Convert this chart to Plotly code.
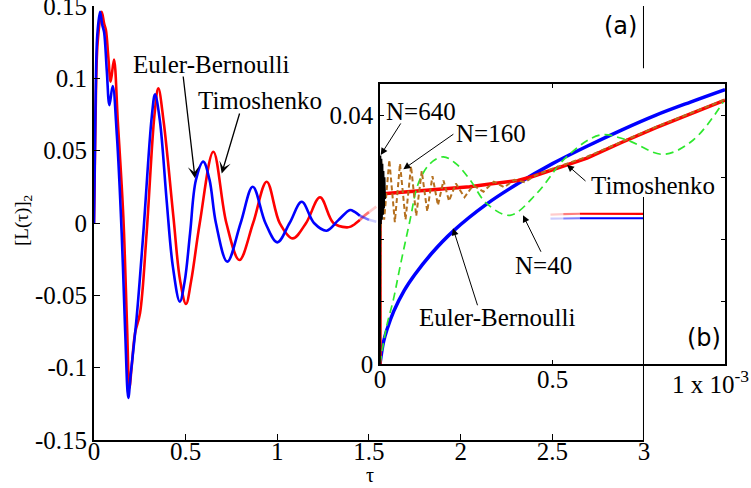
import plotly.graph_objects as go

# ---------------- main panel (a) data ----------------
tau_eb = [0, 0.008, 0.018, 0.033, 0.045, 0.055, 0.07, 0.084, 0.102, 0.125, 0.151, 0.17, 0.187, 0.2,
          0.233, 0.269, 0.315, 0.333, 0.36, 0.396, 0.43, 0.468, 0.495, 0.524, 0.556, 0.596, 0.63,
          0.665, 0.727, 0.80, 0.866, 0.935, 1.0, 1.067, 1.133, 1.2, 1.269, 1.333, 1.397, 1.42,
          1.45, 1.47, 1.50, 1.54]
L_eb = [0, 0.08, 0.13, 0.146, 0.137, 0.132, 0.105, 0.0815, 0.0947, 0.06, -0.007, -0.075, -0.121, -0.105,
        -0.0647, -0.0071, 0.0734, 0.0889, 0.07, 0.0159, -0.03, -0.0544, -0.04, -0.0071, 0.0297, 0.0424, 0.03,
        0.0, -0.0267, 0.0, 0.0251, 0.0, -0.0134, 0.0, 0.0147, 0.0, -0.0053, 0.002, 0.009, 0.0078,
        0.005, 0.0039, 0.0022, 0.0009]

tau_ti = [0, 0.008, 0.02, 0.042, 0.055, 0.065, 0.078, 0.091, 0.109, 0.13, 0.16, 0.18, 0.193, 0.205,
          0.224, 0.251, 0.287, 0.33, 0.351, 0.38, 0.433, 0.47, 0.502, 0.53, 0.577, 0.651, 0.722,
          0.793, 0.868, 0.942, 1.013, 1.084, 1.157, 1.233, 1.306, 1.379, 1.40, 1.42, 1.45, 1.47,
          1.50, 1.54]
L_ti = [0, 0.07, 0.125, 0.146, 0.138, 0.1334, 0.115, 0.0977, 0.113, 0.07, 0.0044, -0.07, -0.114, -0.1,
        -0.076, -0.0624, -0.0071, 0.075, 0.0931, 0.07, 0.0044, -0.04, -0.056, -0.04, 0.0, 0.0493, 0.0,
        -0.0256, 0.0, 0.0285, 0.0, -0.0106, 0.0, 0.0178, 0.0, -0.003, -0.0025, -0.001, 0.002, 0.0045,
        0.0075, 0.0113]

# remnants of the main curves visible through the inset
tail_tau = [2.49, 2.56, 2.65, 2.75, 2.85, 2.95, 3.0]
tail_ti = [0.0058, 0.0061, 0.0064, 0.0063, 0.0060, 0.0062, 0.0063]
tail_eb = [0.0030, 0.0031, 0.0033, 0.0033, 0.0032, 0.0033, 0.0033]

x_ticks = [0, 0.5, 1, 1.5, 2, 2.5, 3]
x_labels = ["0", "0.5", "1", "1.5", "2", "2.5", "3"]
y_ticks = [-0.15, -0.1, -0.05, 0, 0.05, 0.1, 0.15]
y_labels = ["-0.15", "-0.1", "-0.05", "0", "0.05", "0.1", "0.15"]

# ---------------- inset panel (b) data (tau in units of 1e-3) ----------------
ins_eb_t = [0, 0.01, 0.02, 0.04, 0.07, 0.1, 0.15, 0.213, 0.309, 0.4, 0.5,
            0.6, 0.7, 0.8, 0.9, 1.0]
ins_eb_L = [0, 0.0035, 0.0055, 0.0085, 0.0118, 0.0143, 0.0178, 0.0214, 0.0257, 0.0290, 0.0322,
            0.0350, 0.0376, 0.0400, 0.0421, 0.0441]

ins_ti_t = [0, 0, 0.08, 0.18, 0.26, 0.33, 0.4, 0.44, 0.5, 0.55, 0.6, 0.7, 0.8, 0.9, 1.0]
ins_ti_L = [0, 0.0273, 0.0277, 0.0281, 0.0285, 0.029, 0.0295, 0.0301, 0.0312, 0.0321, 0.0331, 0.0356,
            0.0380, 0.0402, 0.0424]

n40_t = [0, 0.019, 0.0386, 0.058, 0.087, 0.111, 0.145, 0.1836, 0.22, 0.261, 0.309, 0.377, 0.454,
         0.541, 0.638, 0.715, 0.821, 0.908, 0.995]
n40_L = [0, 0.006, 0.0103, 0.0156, 0.0231, 0.029, 0.0322, 0.0333, 0.0322, 0.0296, 0.0258, 0.0239,
         0.0274, 0.0333, 0.0368, 0.036, 0.0337, 0.036, 0.0421]

n160_t = [0.0, 0.003, 0.012, 0.027, 0.043, 0.058, 0.074, 0.090, 0.105, 0.121, 0.137, 0.152, 0.168,
          0.184, 0.2, 0.22, 0.245, 0.27, 0.3, 0.33, 0.36, 0.39, 0.42, 0.45, 0.5, 0.6, 0.7, 0.8, 0.9, 1.0]
n160_L = [0.0, 0.033, 0.0232, 0.0328, 0.0228, 0.0322, 0.0232, 0.0318, 0.0238, 0.031, 0.0245, 0.0302,
          0.0255, 0.0295, 0.0262, 0.029, 0.0268, 0.0287, 0.0277, 0.0293, 0.0284, 0.0296, 0.0292, 0.0303,
          0.0314, 0.0333, 0.0357, 0.0381, 0.0403, 0.0425]

n640_t = [0, 0.0015, 0.003, 0.0045, 0.006, 0.0075, 0.009, 0.0105, 0.012, 0.0135, 0.015]
n640_L = [0.0, 0.0335, 0.0225, 0.0330, 0.0232, 0.0322, 0.0240, 0.0310, 0.0250, 0.0300, 0.0265]

ins_y_ticks = [0, 0.01, 0.02, 0.03, 0.04]
ins_y_labels = ["0", "", "", "", "0.04"]
ins_x_ticks = [0, 0.5, 1]
ins_x_labels = ["0", "0.5", ""]

SERIF = "Liberation Serif, DejaVu Serif, serif"
SANS = "DejaVu Sans, sans-serif"


def seg(xs, ys, a, b):
    px = [x for x, y in zip(xs, ys) if a <= x <= b]
    py = [y for x, y in zip(xs, ys) if a <= x <= b]
    return px, py


fig = go.Figure()

# main curves with fading end
for xs, ys, rgb in [(tau_ti, L_ti, "255,0,0"), (tau_eb, L_eb, "0,0,255")]:
    for a, b, alpha in [(0, 1.45, 1.0), (1.45, 1.50, 0.55), (1.50, 1.6, 0.2)]:
        px, py = seg(xs, ys, a, b)
        fig.add_trace(go.Scatter(x=px, y=py, mode="lines", xaxis="x", yaxis="y",
                                 line=dict(color=f"rgba({rgb},{alpha})", width=2.6, shape="spline"),
                                 hoverinfo="skip"))
for ys, rgb in [(tail_ti, "255,0,0"), (tail_eb, "0,0,255")]:
    for a, b, alpha in [(2.4, 2.56, 0.2), (2.56, 2.65, 0.5), (2.65, 3.0, 1.0)]:
        px, py = seg(tail_tau, ys, a, b)
        fig.add_trace(go.Scatter(x=px, y=py, mode="lines", xaxis="x", yaxis="y",
                                 line=dict(color=f"rgba({rgb},{alpha})", width=2.2),
                                 hoverinfo="skip"))

# inset curves
fig.add_trace(go.Scatter(x=ins_eb_t, y=ins_eb_L, mode="lines", xaxis="x2", yaxis="y2",
                         line=dict(color="#0000ff", width=3.5, shape="spline")))
fig.add_trace(go.Scatter(x=ins_ti_t, y=ins_ti_L, mode="lines", xaxis="x2", yaxis="y2",
                         line=dict(color="#ff0000", width=3.5)))
fig.add_trace(go.Scatter(x=n40_t, y=n40_L, mode="lines", xaxis="x2", yaxis="y2",
                         line=dict(color="#2ee82e", width=1.7, dash="8px,5px", shape="spline")))
fig.add_trace(go.Scatter(x=n160_t, y=n160_L, mode="lines", xaxis="x2", yaxis="y2",
                         line=dict(color="#b5701f", width=2, dash="5px,3px")))
fig.add_trace(go.Scatter(x=n640_t, y=n640_L, mode="lines", xaxis="x2", yaxis="y2",
                         line=dict(color="#000000", width=1.6)))

axis_common = dict(showgrid=False, zeroline=False, showline=True, linecolor="black", automargin=False,
                   ticks="inside", tickcolor="black", tickfont=dict(family=SERIF, size=25, color="black"))

fig.update_layout(
    width=751, height=488,
    margin=dict(l=94, r=26, t=6, b=48),
    paper_bgcolor="white", plot_bgcolor="rgba(0,0,0,0)",
    showlegend=False,
    xaxis=dict(domain=[0, 0.8716], range=[0, 3.0], tickvals=x_ticks, ticktext=x_labels,
               linewidth=2, ticklen=6, anchor="y", ticklabelstandoff=-12, **axis_common),
    yaxis=dict(domain=[0, 1], range=[-0.15, 0.15001], tickvals=y_ticks, ticktext=y_labels,
               linewidth=2, ticklen=6, anchor="x", ticklabeloverflow="allow", **axis_common),
    xaxis3=dict(overlaying="x", side="top", range=[0, 3.0], tickvals=x_ticks, showticklabels=False,
                linewidth=2, ticklen=6, anchor="y", **axis_common),
    xaxis2=dict(domain=[0.45325, 1.0], range=[0, 1], tickvals=ins_x_ticks, ticktext=ins_x_labels,
                linewidth=1.5, ticklen=4, anchor="y2", mirror="ticks", ticklabelstandoff=-8,
                **axis_common),
    yaxis2=dict(domain=[0.1751, 0.8203], range=[0, 0.045], tickvals=ins_y_ticks, ticktext=ins_y_labels,
                linewidth=1.5, ticklen=4, anchor="x2", mirror="ticks", **axis_common),
)

# right border of main frame (partly hidden by the inset)
for y0, y1 in [(0.15, 0.107), (0.018, -0.15)]:
    fig.add_shape(type="line", xref="x", yref="y", x0=3, x1=3, y0=y0, y1=y1,
                  line=dict(color="black", width=2))

ann_font = dict(family=SERIF, size=25, color="black")

# main text labels
fig.add_annotation(x=0.6356, y=0.1099, xref="x", yref="y", text="Euler-Bernoulli",
                   showarrow=False, font=ann_font)
fig.add_annotation(x=0.903, y=0.085, xref="x", yref="y", text="Timoshenko",
                   showarrow=False, font=ann_font)
fig.add_annotation(x=2.87, y=0.136, xref="x", yref="y", text="(a)", showarrow=False,
                   font=dict(family=SANS, size=24, color="black"))
# main arrows
for tip, tail in [((0.551, 0.031), (0.4856, 0.1023)), ((0.6966, 0.0343), (0.7965, 0.0767))]:
    fig.add_annotation(x=tip[0], y=tip[1], ax=tail[0], ay=tail[1], xref="x", yref="y",
                       axref="x", ayref="y", text="", showarrow=True, arrowhead=3,
                       arrowsize=1.5, arrowwidth=1.3, arrowcolor="black")

# inset text labels
for x, y, t in [(0.12, 0.0405, "N=640"), (0.3217, 0.0371, "N=160"), (0.79, 0.0287, "Timoshenko"),
                (0.475, 0.0159, "N=40"), (0.3377, 0.0074, "Euler-Bernoulli")]:
    fig.add_annotation(x=x, y=y, xref="x2", yref="y2", text=t, showarrow=False, font=ann_font)
fig.add_annotation(x=0.939, y=0.0042, xref="x2", yref="y2", text="(b)", showarrow=False,
                   font=dict(family=SANS, size=24, color="black"))
# inset arrows
for tip, tail in [((0.002, 0.0336), (0.0629, 0.0389)), ((0.0676, 0.0313), (0.217, 0.0371)),
                  ((0.542, 0.0320), (0.60, 0.0292)), ((0.4145, 0.0239), (0.4687, 0.0178)),
                  ((0.2116, 0.0218), (0.284, 0.0092))]:
    fig.add_annotation(x=tip[0], y=tip[1], ax=tail[0], ay=tail[1], xref="x2", yref="y2",
                       axref="x2", ayref="y2", text="", showarrow=True, arrowhead=2,
                       arrowsize=1.4, arrowwidth=1, arrowcolor="black")

# inset x exponent label
fig.add_annotation(x=1, y=0, xref="x2", yref="y2", text="1 x 10<sup>-3</sup>", showarrow=False,
                   xanchor="right", yanchor="middle", xshift=26, yshift=-18,
                   font=dict(family=SERIF, size=25, color="black"))

# axis titles
fig.add_annotation(x=-0.1125, y=0.5046, xref="paper", yref="paper", text="[L(τ)]<sub>2</sub>",
                   textangle=-90, showarrow=False, xanchor="center", yanchor="middle",
                   font=dict(family=SERIF, size=19, color="black"))
fig.add_annotation(x=0.4374, y=-0.081, xref="paper", yref="paper", text="τ",
                   showarrow=False, xanchor="center", yanchor="middle",
                   font=dict(family=SERIF, size=20, color="black"))

fig.write_html("out.html", config={"displayModeBar": False},
               post_script="document.body.style.margin='0';document.body.style.padding='0';")
